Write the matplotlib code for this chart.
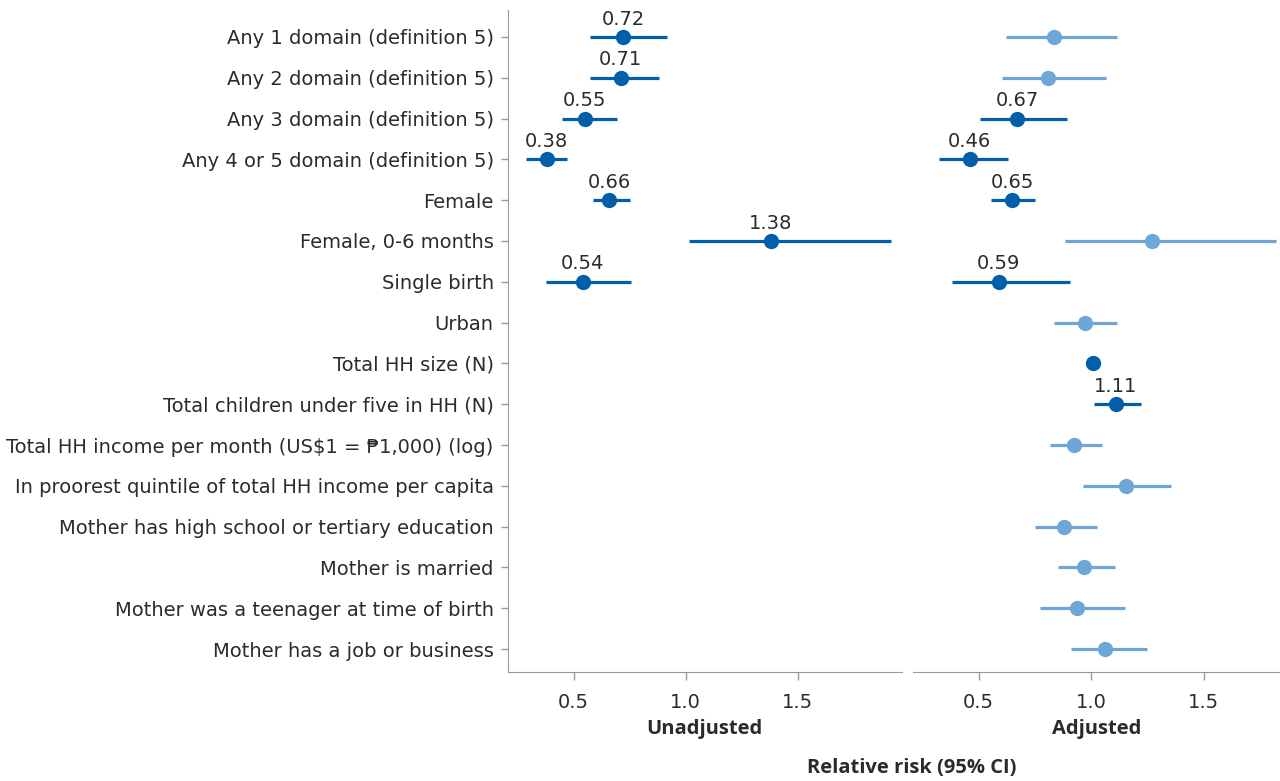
import matplotlib
matplotlib.use("Agg")
import matplotlib.pyplot as plt

plt.rcParams['font.family'] = ['DejaVu Sans']

categories = [
    "Any 1 domain (definition 5)",
    "Any 2 domain (definition 5)",
    "Any 3 domain (definition 5)",
    "Any 4 or 5 domain (definition 5)",
    "Female",
    "Female, 0-6 months",
    "Single birth",
    "Urban",
    "Total HH size (N)",
    "Total children under five in HH (N)",
    "Total HH income per month (US$1 = \u20b11,000) (log)",
    "In proorest quintile of total HH income per capita",
    "Mother has high school or tertiary education",
    "Mother is married",
    "Mother was a teenager at time of birth",
    "Mother has a job or business",
]

# Unadjusted (only first 7 rows)
unadj_rr = [0.72, 0.71, 0.55, 0.38, 0.66, 1.38, 0.54]
unadj_lo = [0.572, 0.572, 0.447, 0.288, 0.588, 1.014, 0.379]
unadj_hi = [0.916, 0.883, 0.695, 0.471, 0.750, 1.919, 0.758]
unadj_sig = [True, True, True, True, True, True, True]

# Adjusted (all rows)
adj_rr = [0.835, 0.809, 0.67, 0.46, 0.65, 1.27, 0.59, 0.971, 1.008, 1.11,
          0.926, 1.153, 0.88, 0.969, 0.939, 1.06]
adj_lo = [0.622, 0.604, 0.507, 0.323, 0.555, 0.884, 0.38, 0.836, 1.0, 1.011,
          0.816, 0.962, 0.749, 0.851, 0.772, 0.911]
adj_hi = [1.116, 1.068, 0.893, 0.629, 0.749, 1.82, 0.904, 1.116, 1.016, 1.222,
          1.049, 1.357, 1.026, 1.105, 1.15, 1.248]
adj_sig = [False, False, True, True, True, False, True, False, True, True,
           False, False, False, False, False, False]
adj_show_label = [False, False, True, True, True, False, True, False, False, True,
                  False, False, False, False, False, False]

DARK = "#005EAA"
LIGHT = "#6FA6D8"
SPINE = "#9A9A9A"
TXT = "#2B2B2B"
BOLD_FONT = ['Open Sans', 'DejaVu Sans']

fig = plt.figure(figsize=(12.8, 7.81), dpi=100)
ax1 = fig.add_axes([0.3965, 0.1396, 0.7047 - 0.3965, 0.9872 - 0.1396])
ax2 = fig.add_axes([0.7133, 0.1396, 1.0 - 0.7133, 0.9872 - 0.1396])

ypos = list(range(len(categories)))


def draw(ax, rr, lo, hi, sig, labels):
    for i, (r, l, h, s, lab) in enumerate(zip(rr, lo, hi, sig, labels)):
        c = DARK if s else LIGHT
        ax.plot([l, h], [i, i], color=c, lw=2.3, solid_capstyle='butt', zorder=2)
        ax.plot([r], [i], 'o', color=c, markersize=11, markeredgewidth=0, zorder=3)
        if lab:
            ax.annotate(f"{r:.2f}", (r, i), xytext=(0, 6), textcoords='offset points',
                        ha='center', va='bottom', fontsize=14, color=TXT)


draw(ax1, unadj_rr, unadj_lo, unadj_hi, unadj_sig, [True] * len(unadj_rr))
draw(ax2, adj_rr, adj_lo, adj_hi, adj_sig, adj_show_label)

for ax in (ax1, ax2):
    ax.set_ylim(15.56, -0.66)
    ax.set_xticks([0.5, 1.0, 1.5])
    ax.set_xticklabels(["0.5", "1.0", "1.5"])
    ax.tick_params(axis='x', colors=SPINE, labelcolor=TXT, labelsize=14,
                   length=6, width=1, pad=9)
    ax.spines['top'].set_visible(False)
    ax.spines['right'].set_visible(False)
    ax.spines['bottom'].set_color(SPINE)

ax1.set_xlim(0.205, 1.966)
ax2.set_xlim(0.208, 1.84)

ax1.spines['left'].set_color(SPINE)
ax1.set_yticks(ypos)
ax1.set_yticklabels(categories)
ax1.tick_params(axis='y', colors=SPINE, labelcolor=TXT, labelsize=14, length=5,
                width=1, pad=5)

ax2.spines['left'].set_visible(False)
ax2.set_yticks([])

ax1.set_xlabel("Unadjusted", fontsize=14.5, fontweight='bold', color=TXT,
               labelpad=5, family=BOLD_FONT)
ax2.set_xlabel("Adjusted", fontsize=14.5, fontweight='bold', color=TXT,
               labelpad=5, family=BOLD_FONT)

fig.text(0.7125, 0.004, "Relative risk (95% CI)", ha='center', va='bottom',
         fontsize=14.5, fontweight='bold', color=TXT, family=BOLD_FONT)

fig.savefig("out.png", dpi=100)
